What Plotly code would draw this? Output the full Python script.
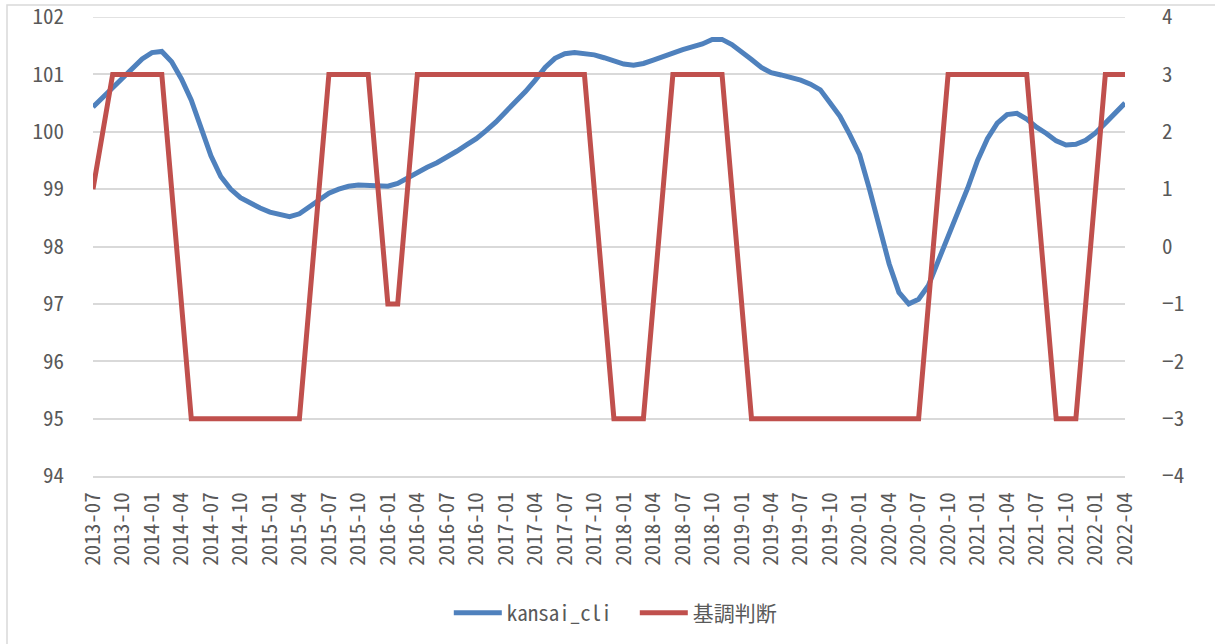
import pandas as pd
import plotly.graph_objects as go

# Monthly categories 2013-07 .. 2022-04
months = [p.strftime("%Y-%m") for p in pd.period_range("2013-07", "2022-04", freq="M")]

kansai_cli = [
    100.43, 100.60, 100.78, 100.95, 101.12, 101.27, 101.38, 101.40, 101.22, 100.92,  # 2013-07..2014-04
    100.55, 100.08, 99.58, 99.22, 99.00, 98.85, 98.75, 98.67, 98.60, 98.55,          # 2014-05..2015-02
    98.52, 98.57, 98.69, 98.81, 98.93, 99.00, 99.05, 99.07, 99.07, 99.05,            # 2015-03..2015-12
    99.05, 99.10, 99.20, 99.30, 99.38, 99.46, 99.55, 99.66, 99.77, 99.88,            # 2016-01..2016-10
    100.02, 100.17, 100.35, 100.52, 100.70, 100.90, 101.12, 101.28, 101.36, 101.38,  # 2016-11..2017-08
    101.37, 101.34, 101.29, 101.24, 101.18, 101.16, 101.19, 101.25, 101.32, 101.37,  # 2017-09..2018-06
    101.43, 101.48, 101.53, 101.61, 101.61, 101.52, 101.40, 101.26, 101.12, 101.03,  # 2018-07..2019-04
    100.99, 100.95, 100.90, 100.83, 100.73, 100.50, 100.27, 99.95, 99.60, 99.00,     # 2019-05..2020-02
    98.35, 97.70, 97.20, 97.00, 97.08, 97.32, 97.75, 98.15, 98.60, 99.02,            # 2020-03..2020-12
    99.50, 99.88, 100.15, 100.30, 100.32, 100.22, 100.08, 99.97, 99.84, 99.77,       # 2021-01..2021-10
    99.78, 99.85, 99.98, 100.15, 100.32, 100.50,                                     # 2021-11..2022-04
]

kicho_months = ["2013-07", "2013-09", "2014-02", "2014-05", "2015-04", "2015-07",
                "2015-11", "2016-01", "2016-02", "2016-04", "2017-09", "2017-12",
                "2018-03", "2018-06", "2018-11", "2019-02", "2020-07", "2020-10",
                "2021-06", "2021-09", "2021-11", "2022-02", "2022-04"]
kicho_values = [1, 3, 3, -3, -3, 3, 3, -1, -1, 3, 3, -3, -3, 3, 3, -3, -3, 3, 3, -3, -3, 3, 3]

left_ticks = [94, 95, 96, 97, 98, 99, 100, 101, 102]
right_ticks = [-4, -3, -2, -1, 0, 1, 2, 3, 4]
x_ticks = months[::3]

FONT = "Noto Sans Mono CJK JP, Noto Sans CJK JP, monospace"
TXT = "#595959"
GRID = "#D9D9D9"

fig = go.Figure()
fig.add_trace(go.Scatter(
    x=months, y=kansai_cli, name="kansai_cli", mode="lines",
    line=dict(color="#4F81BD", width=5), yaxis="y",
))
fig.add_trace(go.Scatter(
    x=kicho_months, y=kicho_values, name="基調判断", mode="lines",
    line=dict(color="#C0504D", width=5), yaxis="y2",
))

W, H = 1215, 644
L, R, T, B = 93, 1125, 17, 476

fig.update_layout(
    width=W, height=H,
    margin=dict(l=L, r=W - R, t=T, b=H - B, autoexpand=False),
    paper_bgcolor="white", plot_bgcolor="white",
    font=dict(family=FONT, size=21, color=TXT),
    showlegend=True,
    legend=dict(orientation="h", x=0.525, xanchor="center", y=(B - 613) / (B - T),
                yanchor="middle", font=dict(family=FONT, size=21, color=TXT),
                itemwidth=48, entrywidth=123, tracegroupgap=0),
    xaxis=dict(
        type="category", categoryorder="array", categoryarray=months,
        range=[0, len(months) - 1],
        tickmode="array", tickvals=x_ticks, ticktext=x_ticks,
        tickangle=-90, showgrid=False, zeroline=False,
        showline=True, linecolor=GRID, linewidth=1.5,
        ticks="", ticklabelstandoff=6, ticklabeloverflow="allow",
        tickfont=dict(family=FONT, size=21, color=TXT),
    ),
    yaxis=dict(
        range=[94, 102], tickmode="array", tickvals=left_ticks,
        showgrid=True, gridcolor=GRID, gridwidth=1.5, zeroline=False,
        showline=False, ticks="", ticklabelstandoff=28, ticklabeloverflow="allow",
        tickfont=dict(family=FONT, size=21, color=TXT),
    ),
    yaxis2=dict(
        range=[-4, 4], tickmode="array", tickvals=right_ticks,
        overlaying="y", side="right", showgrid=False, zeroline=False,
        showline=False, ticks="", ticklabelstandoff=36, ticklabeloverflow="allow",
        tickfont=dict(family=FONT, size=21, color=TXT),
    ),
    shapes=[
        dict(type="rect", xref="paper", yref="paper",
             x0=(7 - L) / (R - L), x1=1.2, y0=-1.0, y1=(B - 5) / (B - T),
             line=dict(color=GRID, width=1.5), fillcolor="rgba(0,0,0,0)", layer="below"),
        # top gridline (plotly drops grid lines at the very edge of the range)
        dict(type="line", xref="paper", yref="y", x0=0, x1=1, y0=left_ticks[-1], y1=left_ticks[-1],
             line=dict(color=GRID, width=1.5), layer="below"),
    ],
)

fig.write_html("out.html",
               config={"displayModeBar": False},
               post_script="document.body.style.margin='0';document.body.style.overflow='hidden';")
